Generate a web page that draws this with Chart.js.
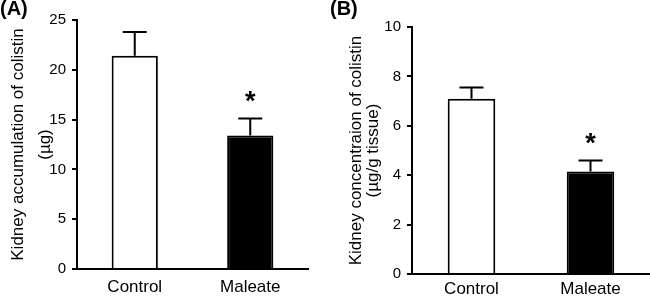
<!DOCTYPE html>
<html>
<head>
<meta charset="utf-8">
<script src="https://cdn.jsdelivr.net/npm/chart.js@4/dist/chart.umd.min.js"></script>
<style>
body { margin: 0; background: #fff; }
#wrap { position: relative; width: 650px; height: 301px; overflow: hidden; }
canvas { position: absolute; top: 0; }
#chartA { left: 0; }
#chartB { left: 325px; }
.tag { position: absolute; top: -3px; font: bold 20px "Liberation Sans", Arial, sans-serif; color: #000; }
</style>
</head>
<body>
<div id="wrap">
  <canvas id="chartA" width="325" height="301"></canvas>
  <canvas id="chartB" width="325" height="301"></canvas>
  <div class="tag" style="left:0">(A)</div>
  <div class="tag" style="left:330px">(B)</div>
</div>
<script>
const groups = ['Control', 'Maleate'];
const barColors = ['#ffffff', '#000000'];
const stars = ['', '*'];

// (A) kidney accumulation, ug
const accumMean = [21.4, 13.4];
const accumSem = [2.4, 1.7];
const accumMax = 25, accumStep = 5;

// (B) kidney concentration, ug/g tissue
const concMean = [7.1, 4.15];
const concSem = [0.45, 0.45];
const concMax = 10, concStep = 2;

Chart.defaults.font.family = '"Liberation Sans", Arial, sans-serif';
Chart.defaults.color = '#000';

// one-sided (upper) error bars + significance mark
const errorBars = {
  id: 'errorBars',
  afterDatasetsDraw(chart, args, opts) {
    const ctx = chart.ctx;
    const y = chart.scales.y;
    const ds = chart.data.datasets[0];
    ctx.save();
    ctx.strokeStyle = '#000';
    ctx.lineWidth = 2;
    chart.getDatasetMeta(0).data.forEach(function(bar, i) {
      const top = y.getPixelForValue(ds.data[i] + opts.sem[i]);
      ctx.beginPath();
      ctx.moveTo(bar.x, bar.y);
      ctx.lineTo(bar.x, top);
      ctx.moveTo(bar.x - opts.cap, top);
      ctx.lineTo(bar.x + opts.cap, top);
      ctx.stroke();
      if (opts.marks[i]) {
        ctx.fillStyle = '#000';
        ctx.font = 'bold 27px "Liberation Sans", Arial, sans-serif';
        ctx.textAlign = 'center';
        ctx.textBaseline = 'alphabetic';
        ctx.fillText(opts.marks[i], bar.x, top - opts.gap);
      }
    });
    ctx.restore();
  }
};

function makePanel(el, values, sem, max, step, title, lay) {
  return new Chart(document.getElementById(el), {
    type: 'bar',
    data: {
      labels: groups,
      datasets: [{
        data: values,
        backgroundColor: barColors,
        borderColor: '#000',
        borderWidth: 2,
        barPercentage: 0.4,
        categoryPercentage: 1
      }]
    },
    plugins: [errorBars],
    options: {
      responsive: false,
      animation: false,
      layout: { padding: { left: 0, top: lay.top, right: lay.right, bottom: 0 } },
      plugins: {
        legend: { display: false },
        tooltip: { enabled: false },
        errorBars: { sem: sem, marks: stars, cap: 12, gap: lay.gap }
      },
      scales: {
        x: {
          grid: { display: false, drawTicks: false },
          border: { display: true, color: '#000', width: 2 },
          ticks: { padding: lay.xpad, font: { size: 17 } },
          afterFit: function(s) { s.height = lay.xh; }
        },
        y: {
          min: 0,
          max: max,
          ticks: { stepSize: step, padding: 6, font: { size: 15 } },
          grid: { drawOnChartArea: false, drawTicks: true, tickLength: 5, color: '#000', lineWidth: 2 },
          border: { display: true, color: '#000', width: 2 },
          title: {
            display: true,
            text: title,
            font: { size: 17, lineHeight: lay.lh },
            padding: { top: lay.tpad, bottom: 0 }
          },
          afterFit: function(s) { s.width = lay.yw; }
        }
      }
    }
  });
}

makePanel('chartA', accumMean, accumSem, accumMax, accumStep,
  ['Kidney accumulation of colistin', '(\u00b5g)'],
  { top: 20, right: 17, xh: 32, yw: 77, lh: '27px', tpad: 5, gap: 9, xpad: 8 });

makePanel('chartB', concMean, concSem, concMax, concStep,
  ['Kidney concentraion of colistin', '(\u00b5g/g tissue)'],
  { top: 27, right: 0, xh: 27, yw: 87, lh: '17px', tpad: 23, gap: 8, xpad: 5 });
</script>
</body>
</html>
